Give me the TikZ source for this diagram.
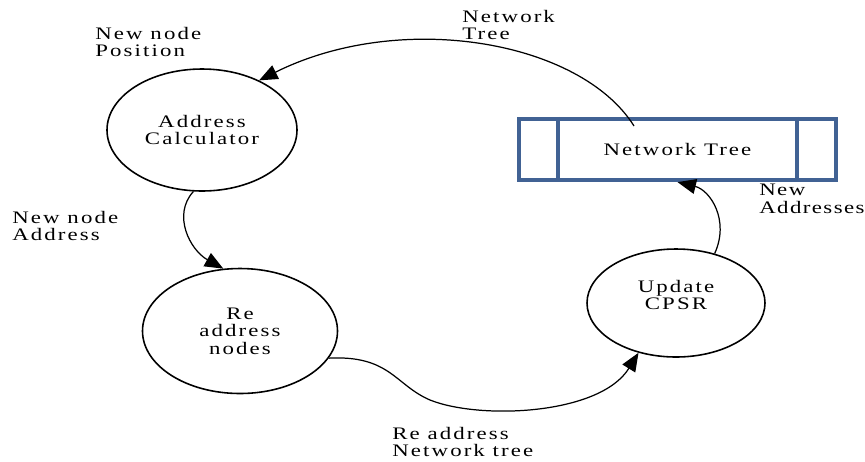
\documentclass[tikz,border=0pt]{standalone}
\usepackage{fontspec}
\setmainfont{Liberation Serif}[FakeStretch=1.3,LetterSpace=12]
\usetikzlibrary{shapes.geometric,arrows.meta}
\definecolor{boxblue}{RGB}{65,98,148}
\begin{document}
\begin{tikzpicture}[x=0.02cm,y=-0.02cm,
  every node/.style={font=\fontsize{10}{9.9}\selectfont},
  proc/.style 2 args={ellipse,draw,line width=0.9pt,minimum width=#1*0.02cm,minimum height=#2*0.02cm,inner sep=0pt,align=center},
  flow/.style={line width=0.7pt,-{Triangle[length=10.5pt,width=8.5pt]}},
  lbl/.style={anchor=north west,inner sep=0pt,align=left},
  boxline/.style={draw=boxblue,line width=2.4pt}]
\useasboundingbox (0,0) rectangle (865,461);
% processes
\node[proc={190}{122}] (ac) at (202,130) {Address\\Calculator};
\node[proc={195}{125}] (rn) at (240,331) {Re\\address\\nodes};
\node[proc={178}{108},text depth=9pt] (uc) at (676,303) {Update\\CPSR};
% data store
\node[boxline,fill=white,minimum width=317*0.02cm,minimum height=61*0.02cm,inner sep=0pt] (nt) at (677.5,149.5) {Network Tree};
\draw[boxline] (558,0 |- nt.north) -- (558,0 |- nt.south);
\draw[boxline] (797,0 |- nt.north) -- (797,0 |- nt.south);
% connectors
\coordinate (s1) at (634,126);
\draw[flow] (s1) .. controls (580,40) and (400,10) .. (ac.41);
\draw[flow] (ac.-98) .. controls (172,215) and (190,250) .. (rn.105);
\draw[flow] (rn.-17) .. controls (390,355) and (395,385) .. (430,400) .. controls (480,420) and (600,415) .. (uc.-127);
\draw[flow] (uc.52) .. controls (730,220) and (710,190) .. (nt.south);
% labels
\node[lbl] (l1) at (95,27) {New node\\Position};
\node[lbl] (l2) at (462,10) {Network\\Tree};
\node[lbl] (l3) at (12,211) {New node\\Address};
\node[lbl,font=\fontsize{10}{9.9}\selectfont\addfontfeatures{LetterSpace=8}] (l4) at (759,184) {New\\Addresses};
\node[lbl] (l5) at (392,427) {Re address\\Network tree};
\end{tikzpicture}
\end{document}
